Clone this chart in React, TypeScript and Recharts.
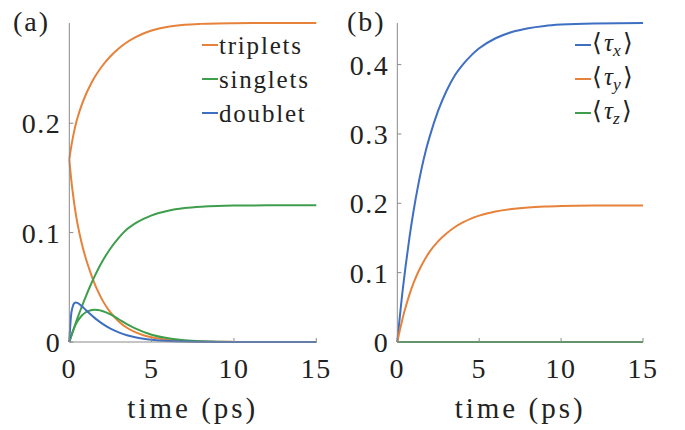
import React from 'react';
import { LineChart, Line, XAxis, YAxis, Legend } from 'recharts';

const times = [0, 0.1, 0.2, 0.3, 0.4, 0.5, 0.75, 1, 1.25, 1.5, 1.75, 2, 2.5, 3, 3.5, 4, 4.5, 5, 6, 7, 8, 9, 10, 12, 15];

// panel (a)
const tripletsRise = [0.1667, 0.177, 0.1855, 0.193, 0.1995, 0.205, 0.2165, 0.226, 0.234, 0.241, 0.247, 0.2523, 0.2612, 0.2683, 0.274, 0.2785, 0.282, 0.2847, 0.2882, 0.29, 0.2908, 0.2912, 0.2914, 0.2916, 0.2916];
const tripletsDecay = [0.1667, 0.151, 0.138, 0.1265, 0.1165, 0.108, 0.0905, 0.0765, 0.065, 0.0548, 0.046, 0.0385, 0.027, 0.0188, 0.013, 0.009, 0.0062, 0.0043, 0.002, 0.0009, 0.0004, 0.0002, 0.0001, 0, 0];
const singletsRise = [0, 0.0045, 0.009, 0.0135, 0.0178, 0.022, 0.032, 0.0415, 0.0505, 0.0588, 0.0665, 0.0735, 0.0855, 0.0952, 0.103, 0.1085, 0.1125, 0.1158, 0.12, 0.1224, 0.1237, 0.1244, 0.1247, 0.1249, 0.125];
const singletsTransient = [0, 0.0048, 0.0092, 0.013, 0.0163, 0.019, 0.024, 0.0272, 0.0288, 0.0295, 0.0292, 0.0283, 0.0252, 0.0208, 0.0163, 0.0124, 0.0092, 0.0067, 0.0034, 0.0016, 0.0007, 0.0003, 0.0001, 0, 0];
const doublet = [0, 0.0235, 0.032, 0.0355, 0.0362, 0.0357, 0.0328, 0.0293, 0.0258, 0.0225, 0.0195, 0.0168, 0.0122, 0.0088, 0.0062, 0.0043, 0.003, 0.0021, 0.001, 0.0005, 0.0002, 0.0001, 0, 0, 0];

// panel (b)
const tauX = [0, 0.024, 0.047, 0.069, 0.089, 0.108, 0.152, 0.19, 0.223, 0.252, 0.277, 0.298, 0.334, 0.362, 0.384, 0.4, 0.413, 0.4235, 0.438, 0.447, 0.4525, 0.4558, 0.4577, 0.4594, 0.46];
const tauY = [0, 0.011, 0.0215, 0.0315, 0.041, 0.0495, 0.069, 0.0855, 0.0995, 0.1115, 0.122, 0.131, 0.1455, 0.1565, 0.1655, 0.1725, 0.178, 0.1822, 0.1882, 0.1918, 0.194, 0.1953, 0.1961, 0.1968, 0.197];
const tauZ = [0, 0, 0, 0, 0, 0, 0, 0, 0, 0, 0, 0, 0, 0, 0, 0, 0, 0, 0, 0, 0, 0, 0, 0, 0];

const xTicks = [0, 5, 10, 15];
const yTicksA = [0, 0.1, 0.2];
const yTicksB = [0, 0.1, 0.2, 0.3, 0.4];
const yMaxA = 0.2916;
const yMaxB = 0.46;
const legendA = ['triplets', 'singlets', 'doublet'];
const legendB = ['x', 'y', 'z'];
const panelLabels = ['(a)', '(b)'];
const xLabel = 'time (ps)';

const BLUE = '#3e6fc3';
const ORANGE = '#e7823a';
const GREEN = '#3e9e4c';
const FRAME = '#8a8a8a';
const TEXT = '#222222';
const FONT = "'Liberation Serif', 'Times New Roman', serif";

const dataA = times.map((t, i) => ({
  t,
  tr: tripletsRise[i],
  td: tripletsDecay[i],
  sr: singletsRise[i],
  st: singletsTransient[i],
  d: doublet[i],
}));

const dataB = times.map((t, i) => ({ t, x: tauX[i], y: tauY[i], z: tauZ[i] }));

const fmt = (v: number) => (v === 0 ? '0' : String(v));
const blank = () => <g />;
const tickStyle = { fontSize: 28, fontFamily: FONT, fill: TEXT, letterSpacing: 1.5 };
const labelStyle = { fontSize: 29, fontFamily: FONT, fill: TEXT, letterSpacing: 3 };

const rowStyle: React.CSSProperties = { display: 'flex', alignItems: 'center', height: 34, whiteSpace: 'nowrap' };
const swatch = (color: string): React.CSSProperties => ({ display: 'inline-block', width: 16, height: 2, background: color, marginRight: 1 });

const orderA = (item: any) => legendA.indexOf(item.value);
const orderB = (item: any) => legendB.indexOf(item.value);

const renderLegendA = (props: any) => {
  const items = (props.payload || []).filter((p: any) => p.type !== 'none' && legendA.includes(p.value));
  items.sort((a: any, b: any) => orderA(a) - orderA(b));
  return (
    <div style={{ fontFamily: FONT, fontSize: 25, color: TEXT, lineHeight: 1, letterSpacing: 1.8 }}>
      {items.map((p: any, i: number) => (
        <div key={i} style={rowStyle}>
          <span style={swatch(p.color)} />
          <span>{p.value}</span>
        </div>
      ))}
    </div>
  );
};

const renderLegendB = (props: any) => {
  const items = (props.payload || []).filter((p: any) => p.type !== 'none' && legendB.includes(p.value));
  items.sort((a: any, b: any) => orderB(a) - orderB(b));
  return (
    <div style={{ fontFamily: FONT, fontSize: 25, color: TEXT, lineHeight: 1 }}>
      {items.map((p: any, i: number) => (
        <div key={i} style={rowStyle}>
          <span style={swatch(p.color)} />
          <span>
            {'\u27E8'}
            <i style={{ marginLeft: 2 }}>{'\u03C4'}</i>
            <sub style={{ fontSize: '0.7em', fontStyle: 'italic', verticalAlign: '-0.3em' }}>{p.value}</sub>
            <span style={{ marginLeft: 2 }}>{'\u27E9'}</span>
          </span>
        </div>
      ))}
    </div>
  );
};

export default function App() {
  const axisCommon = { stroke: FRAME, tickSize: -4, interval: 0 as const };
  return (
    <div style={{ position: 'absolute', left: 0, top: 0, width: 685, height: 430, background: '#fff', fontFamily: FONT }}>
      <div style={{ position: 'absolute', left: 0, top: 0 }}>
        <LineChart width={340} height={430} data={dataA} margin={{ top: 23, right: 23.7, bottom: 0, left: 0 }}>
          <XAxis
            xAxisId="b"
            dataKey="t"
            type="number"
            domain={[0, 15]}
            ticks={xTicks}
            {...axisCommon}
            tickMargin={20}
            height={88}
            tick={tickStyle}
            tickFormatter={fmt}
            label={{ value: xLabel, position: 'insideBottom', offset: 12, ...labelStyle }}
          />
          <XAxis xAxisId="t" dataKey="t" orientation="top" type="number" domain={[0, 15]} ticks={xTicks} {...axisCommon} height={0} tick={blank} />
          <YAxis yAxisId="l" type="number" domain={[0, yMaxA]} ticks={yTicksA} {...axisCommon} tickMargin={12} width={69.3} tick={tickStyle} tickFormatter={fmt} />
          <YAxis yAxisId="r" orientation="right" type="number" domain={[0, yMaxA]} ticks={yTicksA} {...axisCommon} width={0} tick={blank} />
          <Legend
            layout="vertical"
            align="center"
            verticalAlign="middle"
            content={renderLegendA}
            itemSorter={orderA as any}
            wrapperStyle={{ left: 202, top: 28, width: 'auto', height: 'auto' }}
          />
          <Line xAxisId="b" yAxisId="l" dataKey="tr" name={legendA[0]} stroke={ORANGE} strokeWidth={2} dot={false} type="monotone" isAnimationActive={false} />
          <Line xAxisId="b" yAxisId="l" dataKey="td" name="triplets2" legendType="none" stroke={ORANGE} strokeWidth={2} dot={false} type="monotone" isAnimationActive={false} />
          <Line xAxisId="b" yAxisId="l" dataKey="sr" name={legendA[1]} stroke={GREEN} strokeWidth={2} dot={false} type="monotone" isAnimationActive={false} />
          <Line xAxisId="b" yAxisId="l" dataKey="st" name="singlets2" legendType="none" stroke={GREEN} strokeWidth={2} dot={false} type="monotone" isAnimationActive={false} />
          <Line xAxisId="b" yAxisId="l" dataKey="d" name={legendA[2]} stroke={BLUE} strokeWidth={2} dot={false} type="monotone" isAnimationActive={false} />
        </LineChart>
      </div>
      <div style={{ position: 'absolute', left: 340, top: 0 }}>
        <LineChart width={345} height={430} data={dataB} margin={{ top: 23, right: 42, bottom: 0, left: 0 }}>
          <XAxis
            xAxisId="b"
            dataKey="t"
            type="number"
            domain={[0, 15]}
            ticks={xTicks}
            {...axisCommon}
            tickMargin={20}
            height={88}
            tick={tickStyle}
            tickFormatter={fmt}
            label={{ value: xLabel, position: 'insideBottom', offset: 12, ...labelStyle }}
          />
          <XAxis xAxisId="t" dataKey="t" orientation="top" type="number" domain={[0, 15]} ticks={xTicks} {...axisCommon} height={0} tick={blank} />
          <YAxis yAxisId="l" type="number" domain={[0, yMaxB]} ticks={yTicksB} {...axisCommon} tickMargin={12} width={57.3} tick={tickStyle} tickFormatter={fmt} />
          <YAxis yAxisId="r" orientation="right" type="number" domain={[0, yMaxB]} ticks={yTicksB} {...axisCommon} width={0} tick={blank} />
          <Legend
            layout="vertical"
            align="center"
            verticalAlign="middle"
            content={renderLegendB}
            itemSorter={orderB as any}
            wrapperStyle={{ left: 235, top: 28, width: 'auto', height: 'auto' }}
          />
          <Line xAxisId="b" yAxisId="l" dataKey="x" name={legendB[0]} stroke={BLUE} strokeWidth={2} dot={false} type="monotone" isAnimationActive={false} />
          <Line xAxisId="b" yAxisId="l" dataKey="y" name={legendB[1]} stroke={ORANGE} strokeWidth={2} dot={false} type="monotone" isAnimationActive={false} />
          <Line xAxisId="b" yAxisId="l" dataKey="z" name={legendB[2]} stroke={GREEN} strokeWidth={2} dot={false} type="monotone" isAnimationActive={false} />
        </LineChart>
      </div>
      <svg width={685} height={430} style={{ position: 'absolute', left: 0, top: 0, pointerEvents: 'none' }}>
        <text x={13} y={31} fontSize={28} fontFamily={FONT} fill={TEXT} letterSpacing={2}>{panelLabels[0]}</text>
        <text x={347} y={31} fontSize={28} fontFamily={FONT} fill={TEXT} letterSpacing={2}>{panelLabels[1]}</text>
      </svg>
    </div>
  );
}
